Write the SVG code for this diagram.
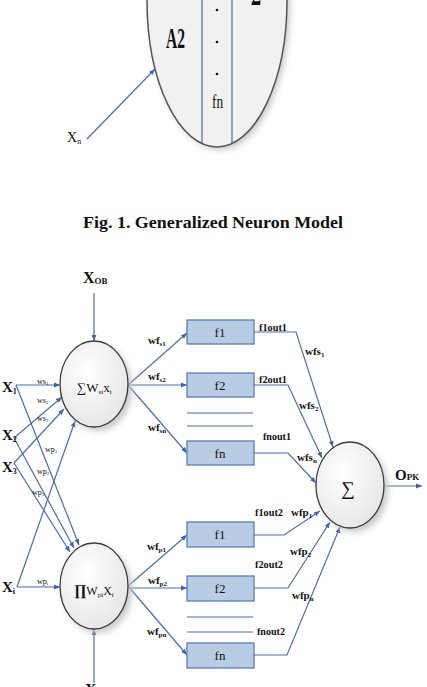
<svg xmlns="http://www.w3.org/2000/svg" width="427" height="687" viewBox="0 0 427 687">
<defs>
<style>
.ln{stroke:#4a6ea8;stroke-width:1.2;fill:none}
.ar{marker-end:url(#ah)}
.bx{fill:#b8cce4;stroke:#5b7db3;stroke-width:1.3}
.cir{fill:url(#cg);stroke:#3c3c3c;stroke-width:1.3}
.shd{fill:#c8c8c8;filter:url(#sh)}
.t{font-family:"Liberation Serif","Times New Roman",serif;font-weight:bold;fill:#111}
.n{font-weight:normal}
.s{font-size:8px}
.w{font-size:11px}
.o{font-size:11px}
.bt{font-size:13px;font-weight:normal;text-anchor:middle}
.x{font-size:15px}
</style>
<marker id="ah" viewBox="0 0 10 10" refX="10" refY="5" markerWidth="6" markerHeight="6" orient="auto" markerUnits="userSpaceOnUse"><path d="M0,1 L10,5 L0,9 z" fill="#3e64a3"/></marker>
<radialGradient id="cg" cx="0.4" cy="0.35" r="0.75"><stop offset="0" stop-color="#ffffff"/><stop offset="1" stop-color="#e4e4e4"/></radialGradient>
<filter id="sh" x="-30%" y="-30%" width="160%" height="160%"><feGaussianBlur stdDeviation="3"/></filter>
</defs>

<!-- top figure (cropped) -->
<g id="top-neuron">
<ellipse cx="220" cy="3" rx="70" ry="147" class="shd"/>
<ellipse cx="217" cy="0" rx="70" ry="147" fill="#f1f1f1" stroke="#555" stroke-width="1.5"/>
<line x1="202" y1="0" x2="202" y2="143" class="ln"/>
<line x1="232" y1="0" x2="232" y2="143" class="ln"/>
<text x="166" y="48" class="t" font-size="29" textLength="19" lengthAdjust="spacingAndGlyphs">A2</text>
<circle cx="217" cy="10" r="1.3" fill="#111"/>
<circle cx="217" cy="42" r="1.3" fill="#111"/>
<circle cx="217" cy="74" r="1.3" fill="#111"/>
<text x="212" y="108" class="t n" font-size="19" textLength="11" lengthAdjust="spacingAndGlyphs">fn</text>
<text x="251" y="5" class="t" font-size="29" textLength="10" lengthAdjust="spacingAndGlyphs">Σ</text>
</g>
<g id="top-input">
<line x1="87" y1="139" x2="155" y2="69" class="ln ar"/>
<text x="67" y="142" class="t n" font-size="14">X<tspan font-size="8" dy="2">n</tspan></text>
</g>
<text id="caption" x="213" y="228" class="t" font-size="16" text-anchor="middle" textLength="260" lengthAdjust="spacingAndGlyphs">Fig. 1. Generalized Neuron Model</text>

<!-- connectors -->
<g id="connectors">
<line x1="94" y1="293" x2="94" y2="341" class="ln ar"/>
<line x1="94" y1="683" x2="94" y2="629" class="ln ar"/>
<line x1="16" y1="385" x2="60" y2="385" class="ln ar"/>
<line x1="14" y1="438" x2="62" y2="397" class="ln ar"/>
<line x1="14" y1="463" x2="64" y2="409" class="ln ar"/>
<line x1="17" y1="587" x2="75" y2="421" class="ln ar"/>
<line x1="17" y1="587" x2="60" y2="587" class="ln ar"/>
<line x1="16" y1="385" x2="79" y2="545" class="ln ar"/>
<line x1="14" y1="438" x2="74" y2="548" class="ln ar"/>
<line x1="14" y1="463" x2="70" y2="552" class="ln ar"/>
<line x1="128" y1="385" x2="187" y2="333" class="ln ar"/>
<line x1="128" y1="385" x2="187" y2="385" class="ln ar"/>
<line x1="128" y1="385" x2="187" y2="453" class="ln ar"/>
<line x1="128" y1="586" x2="187" y2="535" class="ln ar"/>
<line x1="128" y1="588" x2="187" y2="588" class="ln ar"/>
<line x1="128" y1="586" x2="187" y2="655" class="ln ar"/>
<line x1="187" y1="413" x2="253" y2="413" class="ln"/>
<line x1="187" y1="426" x2="253" y2="426" class="ln"/>
<line x1="187" y1="617" x2="253" y2="617" class="ln"/>
<line x1="187" y1="632" x2="253" y2="632" class="ln"/>
<polyline points="254,332 296,332 333,447" class="ln ar"/>
<polyline points="254,385 288,385 322,458" class="ln ar"/>
<polyline points="254,453 288,453 316,483" class="ln ar"/>
<polyline points="254,535 284,535 320,511" class="ln ar"/>
<polyline points="254,588 288,588 330,522" class="ln ar"/>
<polyline points="254,655 287,655 340,527" class="ln ar"/>
<line x1="384" y1="486" x2="422" y2="486" class="ln ar"/>
</g>

<!-- connector labels -->
<g id="labels">
<text x="83" y="283" class="t" font-size="16">X<tspan font-size="9" dy="1">OB</tspan></text>
<text x="85" y="695" class="t" font-size="16">X</text>
<text x="2" y="392" class="t x">X<tspan font-size="8" dy="2">1</tspan></text>
<text x="2" y="440" class="t x">X<tspan font-size="8" dy="2">2</tspan></text>
<text x="2" y="472" class="t x">X<tspan font-size="8" dy="2">3</tspan></text>
<text x="2" y="592" class="t x">X<tspan font-size="8" dy="2">i</tspan></text>
<text x="37" y="384" class="t n s">ws<tspan font-size="5" dy="1">1</tspan></text>
<text x="37" y="403" class="t n s">ws<tspan font-size="5" dy="1">2</tspan></text>
<text x="37" y="421" class="t n s">ws<tspan font-size="5" dy="1">3</tspan></text>
<text x="45" y="452" class="t n s">wp<tspan font-size="5" dy="1">1</tspan></text>
<text x="37" y="474" class="t n s">wp<tspan font-size="5" dy="1">2</tspan></text>
<text x="32" y="495" class="t n s">wp<tspan font-size="5" dy="1">3</tspan></text>
<text x="37" y="584" class="t n s">wp<tspan font-size="5" dy="1">i</tspan></text>
<text x="148" y="344" class="t w">wf<tspan font-size="7" dy="2">s1</tspan></text>
<text x="148" y="380" class="t w">wf<tspan font-size="7" dy="2">s2</tspan></text>
<text x="148" y="431" class="t w">wf<tspan font-size="7" dy="2">sn</tspan></text>
<text x="147" y="550" class="t w">wf<tspan font-size="7" dy="2">p1</tspan></text>
<text x="148" y="584" class="t w">wf<tspan font-size="7" dy="2">p2</tspan></text>
<text x="147" y="635" class="t w">wf<tspan font-size="7" dy="2">pn</tspan></text>
<text x="259" y="331" class="t o" textLength="28" lengthAdjust="spacingAndGlyphs">f1out1</text>
<text x="259" y="383" class="t o" textLength="28" lengthAdjust="spacingAndGlyphs">f2out1</text>
<text x="263" y="440" class="t o" textLength="28" lengthAdjust="spacingAndGlyphs">fnout1</text>
<text x="255" y="516" class="t o" textLength="28" lengthAdjust="spacingAndGlyphs">f1out2</text>
<text x="255" y="568" class="t o" textLength="28" lengthAdjust="spacingAndGlyphs">f2out2</text>
<text x="257" y="635" class="t o" textLength="28" lengthAdjust="spacingAndGlyphs">fnout2</text>
<text x="305" y="355" class="t w">wfs<tspan font-size="7" dy="2">1</tspan></text>
<text x="299" y="409" class="t w">wfs<tspan font-size="7" dy="2">2</tspan></text>
<text x="297" y="461" class="t w">wfs<tspan font-size="7" dy="2">n</tspan></text>
<text x="291" y="516" class="t w">wfp<tspan font-size="7" dy="2">1</tspan></text>
<text x="290" y="555" class="t w">wfp<tspan font-size="7" dy="2">2</tspan></text>
<text x="292" y="599" class="t w">wfp<tspan font-size="7" dy="2">n</tspan></text>
<text x="395" y="480" class="t" font-size="15">O<tspan font-size="9">PK</tspan></text>
</g>

<!-- nodes -->
<g id="sum-neuron">
<ellipse cx="98" cy="388" rx="34" ry="43" class="shd"/>
<ellipse cx="94" cy="384" rx="34" ry="43" class="cir"/>
<text x="77" y="392" class="t n" font-size="13">∑W<tspan font-size="7" dy="2">si</tspan><tspan dy="-2">x</tspan><tspan font-size="7" dy="2">i</tspan></text>
</g>
<g id="product-neuron">
<ellipse cx="98" cy="590" rx="34" ry="43" class="shd"/>
<ellipse cx="94" cy="586" rx="34" ry="43" class="cir"/>
<text x="74" y="595" class="t" font-size="15">∏<tspan class="n" font-size="12">W</tspan><tspan class="n" font-size="7" dy="2">pi</tspan><tspan class="n" font-size="12" dy="-2">X</tspan><tspan class="n" font-size="7" dy="2">i</tspan></text>
</g>
<g id="output-neuron">
<ellipse cx="354" cy="489" rx="34" ry="43" class="shd"/>
<ellipse cx="350" cy="485" rx="34" ry="43" class="cir"/>
<text x="348" y="495" class="t n" font-size="19" text-anchor="middle">∑</text>
</g>
<g id="box-s1"><rect x="187" y="320" width="67" height="24" class="bx"/><text x="220" y="337" class="t bt">f1</text></g>
<g id="box-s2"><rect x="187" y="373" width="67" height="24" class="bx"/><text x="220" y="390" class="t bt">f2</text></g>
<g id="box-sn"><rect x="187" y="441" width="67" height="24" class="bx"/><text x="220" y="458" class="t bt">fn</text></g>
<g id="box-p1"><rect x="187" y="522" width="67" height="25" class="bx"/><text x="220" y="539" class="t bt">f1</text></g>
<g id="box-p2"><rect x="187" y="576" width="67" height="25" class="bx"/><text x="220" y="593" class="t bt">f2</text></g>
<g id="box-pn"><rect x="187" y="643" width="67" height="25" class="bx"/><text x="220" y="660" class="t bt">fn</text></g>
</svg>
